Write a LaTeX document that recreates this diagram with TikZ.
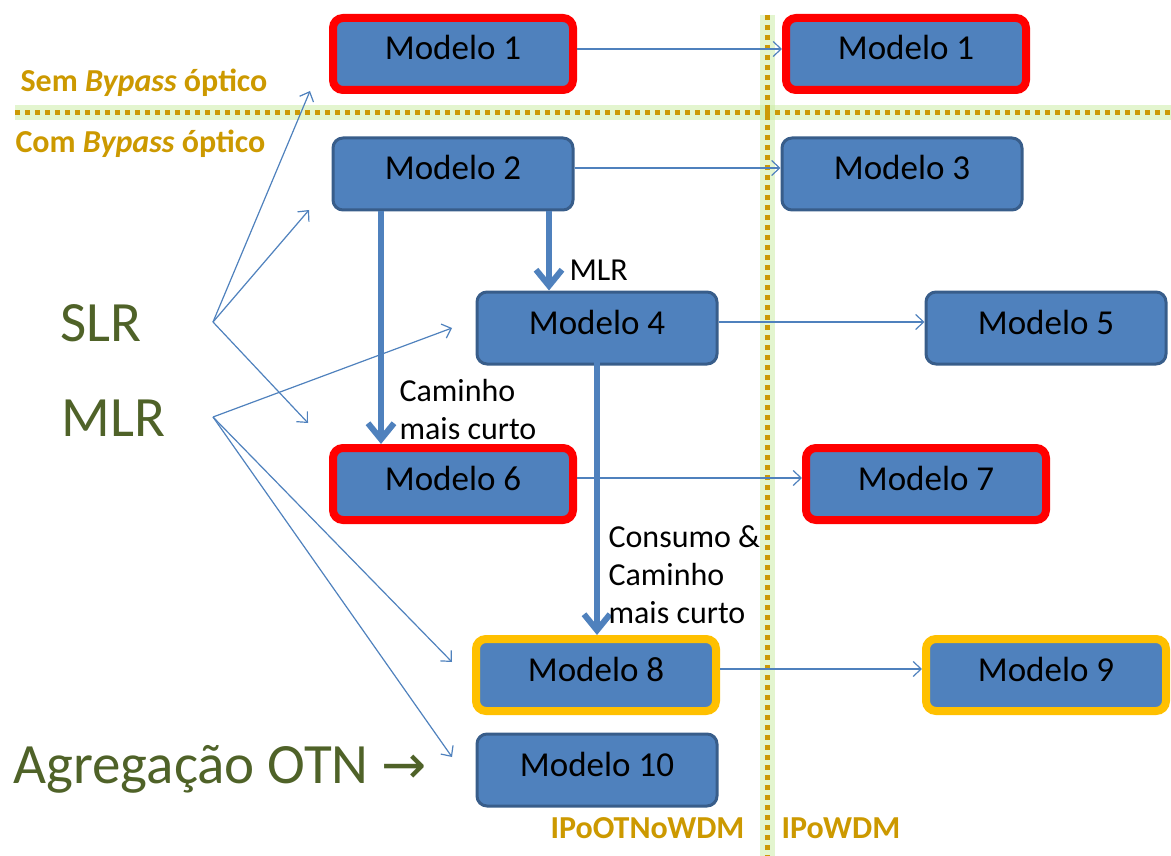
\documentclass[tikz,border=0pt]{standalone}
\usepackage{fontspec}
\setmainfont{Carlito}
\newfontfamily\symfont{DejaVu Sans}
\usetikzlibrary{arrows.meta}

\definecolor{boxfill}{HTML}{4F81BD}
\definecolor{boxedge}{HTML}{385D8A}
\definecolor{alertred}{HTML}{FF0000}
\definecolor{alertgold}{HTML}{FFC000}
\definecolor{labelgold}{HTML}{CC9900}
\definecolor{labelgreen}{HTML}{4F6228}
\definecolor{glowgreen}{HTML}{C8EBA0}
\definecolor{dotgold}{HTML}{CC9A06}

\tikzset{
  model/.style={rectangle, rounded corners=10pt, fill=boxfill, draw=boxedge,
    line width=3pt, minimum width=240pt, minimum height=72pt, inner sep=0pt,
    font=\fontsize{35}{40}\selectfont, text height=22pt, text depth=10pt},
  redmodel/.style={model, draw=alertred, line width=8pt},
  goldmodel/.style={model, draw=alertgold, line width=8pt},
  thinarrow/.style={draw=boxfill, line width=1.2pt,
    -{Straight Barb[length=8pt,width=15pt]}},
  thickarrow/.style={draw=boxfill, line width=6pt, line join=round,
    -{Straight Barb[length=16pt,width=26pt]}},
  glowline/.style={draw=glowgreen, line width=15pt, opacity=0.5},
  dotline/.style={draw=dotgold, line width=5pt, dash pattern=on 5pt off 5pt},
  zonelabel/.style={anchor=base west, text=labelgold, font=\fontsize{32}{38}\selectfont\bfseries},
  biglabel/.style={anchor=base west, text=labelgreen, font=\fontsize{57}{62}\selectfont},
  note/.style={anchor=base west, align=left, font=\fontsize{32}{38}\selectfont}
}

\begin{document}
\begin{tikzpicture}[x=1pt, y=-1pt]
\useasboundingbox (0,0) rectangle (1171,856);

% separators: optical bypass (horizontal) and IPoOTNoWDM / IPoWDM (vertical)
\coordinate (hl) at (15,113);
\coordinate (hr) at (1171,113);
\coordinate (vt) at (767,15);
\coordinate (vb) at (767,856);
\path[glowline] (hl) -- (hr);
\path[glowline] (vt) -- (vb);
\path[dotline] (hl) -- (hr);
\path[dotline] (vt) -- (vb);

% zone labels
\node[zonelabel] (sem) at (17,92) {Sem \textit{Bypass} óptico};
\node[zonelabel] (com) at (12,153) {Com \textit{Bypass} óptico};
\node[zonelabel] (ipotn) at (547,838) {IPoOTNoWDM};
\node[zonelabel] (ipwdm) at (778,838) {IPoWDM};

% routing families
\node[biglabel] (slr) at (57,341) {SLR};
\node[biglabel] (mlr) at (58,436) {MLR};
\node[biglabel] (otn) at (10,783) {Agregação OTN {\symfont\fontsize{54}{60}\selectfont →}};

% models
\node[redmodel]  (m1)  at (453,54)  {Modelo 1};
\node[redmodel]  (m1b) at (906,54)  {Modelo 1};
\node[model]     (m2)  at (453,174) {Modelo 2};
\node[model]     (m3)  at (902,174) {Modelo 3};
\node[model]     (m4)  at (597,328) {Modelo 4};
\node[model]     (m5)  at (1046,328) {Modelo 5};
\node[redmodel]  (m6)  at (453,484) {Modelo 6};
\node[redmodel]  (m7)  at (926,484) {Modelo 7};
\node[goldmodel] (m8)  at (596,675) {Modelo 8};
\node[goldmodel] (m9)  at (1046,675) {Modelo 9};
\node[model]     (m10) at (597,770) {Modelo 10};

% fan-out points and free arrow ends
\coordinate (slrfan) at (213,322);
\coordinate (mlrfan) at (213,417);
\coordinate (s1) at (310,91);
\coordinate (s2) at (309,210);
\coordinate (s3) at (308,423);
\coordinate (r1) at (452,328);
\coordinate (r2) at (452,662);
\coordinate (r3) at (452,757);

\draw[thinarrow] (slrfan) -- (s1);
\draw[thinarrow] (slrfan) -- (s2);
\draw[thinarrow] (slrfan) -- (s3);
\draw[thinarrow] (mlrfan) -- (r1);
\draw[thinarrow] (mlrfan) -- (r2);
\draw[thinarrow] (mlrfan) -- (r3);

% IPoOTNoWDM -> IPoWDM counterparts
\draw[thinarrow] ([yshift=5pt]m1.east) -- ([yshift=5pt]m1b.west);
\draw[thinarrow] ([yshift=6pt]m2.east) -- ([yshift=6pt]m3.west);
\draw[thinarrow] ([yshift=6pt]m4.east) -- ([yshift=6pt]m5.west);
\draw[thinarrow] ([yshift=6pt]m6.east) -- ([yshift=6pt]m7.west);
\draw[thinarrow] ([yshift=6pt]m8.east) -- ([yshift=6pt]m9.west);

% model refinements
\draw[thickarrow] ([xshift=-72pt]m2.south) -- ([xshift=-72pt]m2.south |- m6.north);
\draw[thickarrow] ([xshift=96pt]m2.south) -- ([xshift=96pt]m2.south |- m4.north);
\draw[thickarrow] ([yshift=10pt]m4.south) -- (m4.south |- m8.north);

% refinement criteria (anchored at the baseline of the last line)
\node[note] (nmlr) at (566,280) {MLR};
\node[note] (ncam) at (396,439) {Caminho\\mais curto};
\node[note] (ncons) at (605,623) {Consumo \&\\Caminho\\mais curto};
\end{tikzpicture}
\end{document}
